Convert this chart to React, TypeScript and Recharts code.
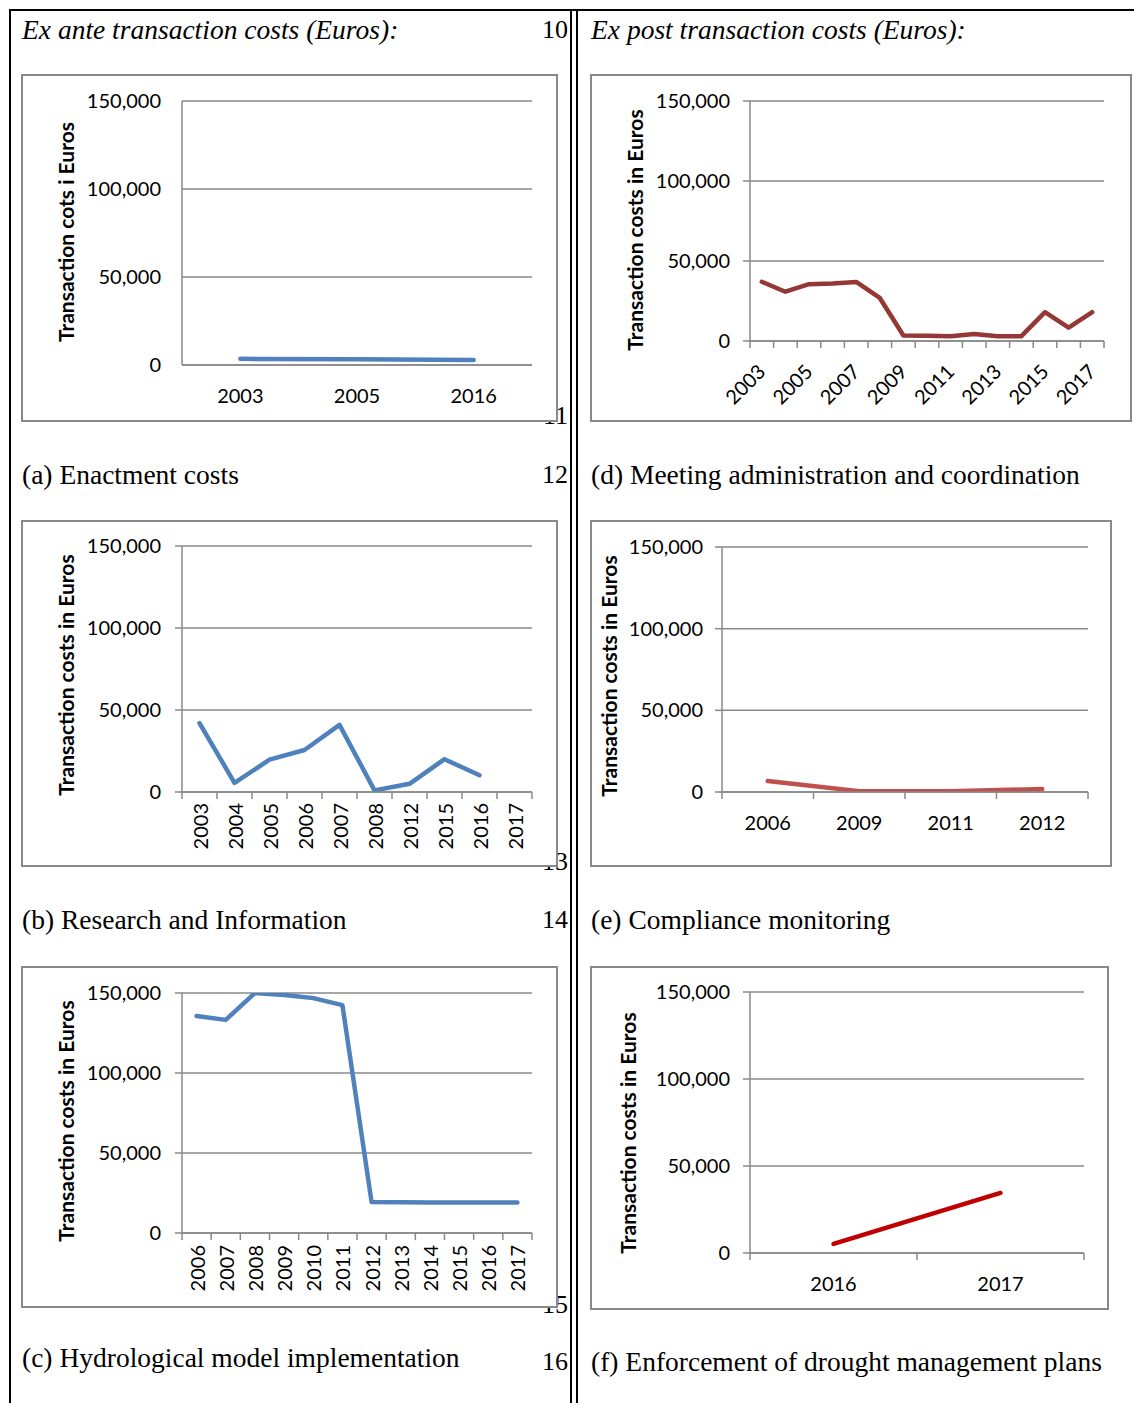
import React from "react";
import { CartesianGrid, Line, LineChart, XAxis, YAxis } from "recharts";

// (a) Enactment costs
const yearsA = ["2003", "2005", "2016"];
const costsA = [3500, 3200, 2900];

// (b) Research and Information
const yearsB = ["2003", "2004", "2005", "2006", "2007", "2008", "2012", "2015", "2016", "2017"];
const costsB: (number | null)[] = [42000, 5600, 19700, 25600, 40900, 1000, 5000, 20000, 10200, null];

// (c) Hydrological model implementation
const yearsC = ["2006", "2007", "2008", "2009", "2010", "2011", "2012", "2013", "2014", "2015", "2016", "2017"];
const costsC = [135600, 133200, 150000, 148800, 146800, 142400, 19400, 19200, 19000, 19100, 19100, 19000];

// (d) Meeting administration and coordination
const yearsD = ["2003", "2004", "2005", "2006", "2007", "2008", "2009", "2010", "2011", "2012", "2013", "2014", "2015", "2016", "2017"];
const costsD = [37000, 30800, 35500, 36000, 36900, 26900, 3400, 3300, 3000, 4400, 3000, 3000, 18000, 8300, 18000];

// (e) Compliance monitoring
const yearsE = ["2006", "2009", "2011", "2012"];
const costsE = [6700, 500, 500, 1800];

// (f) Enforcement of drought management plans
const yearsF = ["2016", "2017"];
const costsF = [5200, 34500];

const yTicks = [0, 50000, 100000, 150000];

const GRAY = "#898989";
const CHART_FONT = "Lato, 'Open Sans', sans-serif";
const SERIF = "'Liberation Serif', 'Times New Roman', serif";
const TICK_SIZE = 20;

type XMode = "flat" | "diag" | "vert";

type PanelProps = {
  frame: [number, number, number, number];
  plot: [number, number, number, number];
  years: string[];
  costs: (number | null)[];
  color: string;
  yLabel: string;
  labelX: number;
  labelY: number;
  xMode: XMode;
  xTickMarks?: boolean;
  yTickMarks?: boolean;
  everyOther?: boolean;
  labelGap: number;
  xLabelOffset: number;
};

function Panel(p: PanelProps) {
  const [fx, fy, fw, fh] = p.frame;
  const [pl, pt, pr, pb] = p.plot;
  const data = p.years.map((year, i) => ({ year, cost: p.costs[i] }));
  const axisY = pb - fy;
  const band = (pr - pl) / p.years.length;

  const renderTick = (props: any) => {
    const { x, payload, index } = props;
    const last = index === p.years.length - 1;
    const showLabel = !p.everyOther || index % 2 === 0;
    let label = null;
    if (showLabel) {
      if (p.xMode === "flat") {
        label = (
          <text x={x} y={axisY + p.xLabelOffset} textAnchor="middle" dominantBaseline="central"
            fontFamily={CHART_FONT} fontSize={TICK_SIZE} fill="#000">
            {payload.value}
          </text>
        );
      } else if (p.xMode === "diag") {
        const tx = x + 5;
        const ty = axisY + p.xLabelOffset;
        label = (
          <text x={tx} y={ty} transform={`rotate(-45 ${tx} ${ty})`} textAnchor="end"
            fontFamily={CHART_FONT} fontSize={TICK_SIZE} fill="#000">
            {payload.value}
          </text>
        );
      } else {
        const ty = axisY + p.xLabelOffset;
        label = (
          <text x={x} y={ty} transform={`rotate(-90 ${x} ${ty})`} textAnchor="end" dominantBaseline="central"
            fontFamily={CHART_FONT} fontSize={TICK_SIZE} fill="#000">
            {payload.value}
          </text>
        );
      }
    }
    return (
      <g>
        {p.xTickMarks && (
          <line x1={x - band / 2} x2={x - band / 2} y1={axisY} y2={axisY + 7} stroke={GRAY} strokeWidth={1.5} />
        )}
        {p.xTickMarks && last && (
          <line x1={x + band / 2} x2={x + band / 2} y1={axisY} y2={axisY + 7} stroke={GRAY} strokeWidth={1.5} />
        )}
        {label}
      </g>
    );
  };

  return (
    <>
      <div
        style={{
          position: "absolute",
          left: fx,
          top: fy,
          width: fw,
          height: fh,
          boxSizing: "border-box",
          border: `2px solid ${GRAY}`,
          background: "#fff",
        }}
      />
      <div style={{ position: "absolute", left: fx, top: fy }}>
        <LineChart
          width={fw}
          height={fh}
          data={data}
          margin={{ top: pt - fy, right: fx + fw - pr, left: 0, bottom: 0 }}
        >
          <CartesianGrid vertical={false} stroke={GRAY} strokeWidth={1.5} />
          <XAxis
            dataKey="year"
            scale="band"
            interval={0}
            height={fy + fh - pb}
            axisLine={{ stroke: GRAY, strokeWidth: 1.5 }}
            tickLine={false}
            tick={renderTick}
          />
          <YAxis
            width={pl - fx}
            domain={[0, 150000]}
            ticks={yTicks}
            allowDataOverflow
            tickFormatter={(v: number) => v.toLocaleString("en-US")}
            axisLine={{ stroke: GRAY, strokeWidth: 1.5 }}
            tickLine={p.yTickMarks ? { stroke: GRAY, strokeWidth: 1.5 } : false}
            tickSize={7}
            tickMargin={p.labelGap - 7}
            tick={{ fill: "#000", fontSize: TICK_SIZE, fontFamily: CHART_FONT }}
          />
          <Line
            type="linear"
            dataKey="cost"
            stroke={p.color}
            strokeWidth={4.5}
            strokeLinecap="round"
            strokeLinejoin="round"
            dot={false}
            activeDot={false}
            isAnimationActive={false}
          />
        </LineChart>
      </div>
      <div
        style={{
          position: "absolute",
          left: p.labelX,
          top: p.labelY,
          transform: "translate(-50%, -50%) rotate(-90deg)",
          fontFamily: CHART_FONT,
          fontSize: 21,
          fontWeight: "bold",
          lineHeight: "22px",
          whiteSpace: "nowrap",
          color: "#000",
        }}
      >
        {p.yLabel}
      </div>
    </>
  );
}

function Txt({ x, cy, children, italic, right }: { x: number; cy: number; children: React.ReactNode; italic?: boolean; right?: boolean }) {
  return (
    <div
      style={{
        position: "absolute",
        left: right ? x - 60 : x,
        width: right ? 60 : undefined,
        textAlign: right ? "right" : "left",
        top: cy - 15,
        fontFamily: SERIF,
        fontSize: right ? 26 : 27.5,
        lineHeight: "30px",
        fontStyle: italic ? "italic" : "normal",
        whiteSpace: "nowrap",
        color: "#000",
      }}
    >
      {children}
    </div>
  );
}

export default function App() {
  return (
    <div style={{ position: "absolute", left: 0, top: 0, width: 1134, height: 1403, background: "#fff", overflow: "hidden" }}>
      {/* table rules */}
      <div style={{ position: "absolute", left: 9, top: 9, width: 1125, height: 2, background: "#000" }} />
      <div style={{ position: "absolute", left: 9, top: 9, width: 2, height: 1394, background: "#000" }} />
      <div style={{ position: "absolute", left: 570, top: 9, width: 2, height: 1394, background: "#000" }} />
      <div style={{ position: "absolute", left: 576, top: 9, width: 2, height: 1394, background: "#000" }} />

      <Txt x={22} cy={30} italic>Ex ante transaction costs (Euros):</Txt>
      <Txt x={591} cy={30} italic>Ex post transaction costs (Euros):</Txt>

      <Txt x={568} cy={30} right>10</Txt>
      <Txt x={568} cy={416} right>11</Txt>
      <Txt x={568} cy={475} right>12</Txt>
      <Txt x={568} cy={862} right>13</Txt>
      <Txt x={568} cy={920} right>14</Txt>
      <Txt x={568} cy={1305} right>15</Txt>
      <Txt x={568} cy={1362} right>16</Txt>

      <Txt x={22} cy={475}>(a) Enactment costs</Txt>
      <Txt x={591} cy={475}>(d) Meeting administration and coordination</Txt>
      <Txt x={22} cy={920}>(b) Research and Information</Txt>
      <Txt x={591} cy={920}>(e) Compliance monitoring</Txt>
      <Txt x={22} cy={1358}>(c) Hydrological model implementation</Txt>
      <Txt x={591} cy={1362}>(f) Enforcement of drought management plans</Txt>

      <Panel
        frame={[21, 74, 537, 348]}
        plot={[182, 101, 532, 365]}
        years={yearsA}
        costs={costsA}
        color="#4f81bd"
        yLabel="Transaction cots i Euros"
        labelX={66}
        labelY={232}
        xMode="flat"
        xTickMarks={false}
        yTickMarks={false}
        labelGap={21}
        xLabelOffset={30}
      />
      <Panel
        frame={[590, 74, 542, 348]}
        plot={[750, 101, 1104, 341]}
        years={yearsD}
        costs={costsD}
        color="#953735"
        yLabel="Transaction costs in Euros"
        labelX={635}
        labelY={230}
        xMode="diag"
        xTickMarks
        yTickMarks
        everyOther
        labelGap={20}
        xLabelOffset={32}
      />
      <Panel
        frame={[21, 520, 537, 347]}
        plot={[182, 546, 532, 792]}
        years={yearsB}
        costs={costsB}
        color="#4f81bd"
        yLabel="Transaction costs in Euros"
        labelX={66}
        labelY={675}
        xMode="vert"
        xTickMarks
        yTickMarks
        labelGap={21}
        xLabelOffset={11}
      />
      <Panel
        frame={[590, 520, 522, 347]}
        plot={[722, 547, 1088, 792]}
        years={yearsE}
        costs={costsE}
        color="#c0504d"
        yLabel="Transaction costs in Euros"
        labelX={609}
        labelY={676}
        xMode="flat"
        xTickMarks
        yTickMarks
        labelGap={19}
        xLabelOffset={30}
      />
      <Panel
        frame={[21, 966, 537, 342]}
        plot={[182, 993, 532, 1233]}
        years={yearsC}
        costs={costsC}
        color="#4f81bd"
        yLabel="Transaction costs in Euros"
        labelX={66}
        labelY={1121}
        xMode="vert"
        xTickMarks
        yTickMarks
        labelGap={21}
        xLabelOffset={12}
      />
      <Panel
        frame={[590, 966, 519, 344]}
        plot={[750, 992, 1084, 1253]}
        years={yearsF}
        costs={costsF}
        color="#c00000"
        yLabel="Transaction costs in Euros"
        labelX={628}
        labelY={1133}
        xMode="flat"
        xTickMarks
        yTickMarks
        labelGap={20}
        xLabelOffset={30}
      />
    </div>
  );
}
